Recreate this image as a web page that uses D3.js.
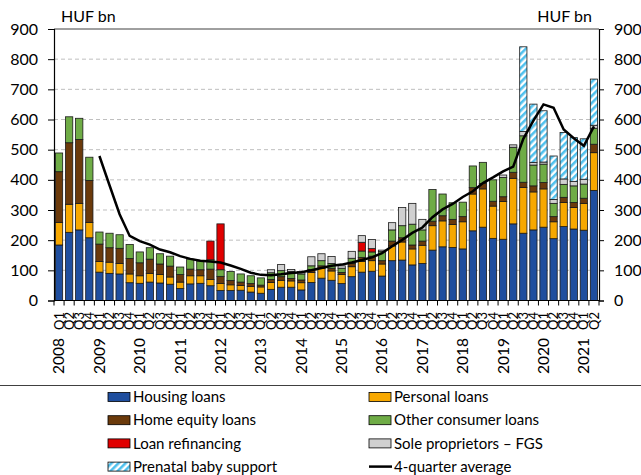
<!DOCTYPE html>
<html><head><meta charset="utf-8">
<script src="https://cdn.jsdelivr.net/npm/d3@7"></script>
<style>
html,body{margin:0;padding:0;background:#fff;}
svg{display:block;font-family:Lato,"Open Sans",sans-serif;}
</style></head>
<body><svg id="c" width="641" height="475"></svg>
<script>
const years = [2008,2009,2010,2011,2012,2013,2014,2015,2016,2017,2018,2019,2020,2021];
const quarterNames = ["Q1","Q2","Q3","Q4"];
const categories = years.flatMap(y => quarterNames.map(q => y + " " + q)).slice(0, 54);
const yTicks = [0,100,200,300,400,500,600,700,800,900];

const housing = [184,226,234,208,94,90,88,59,57,61,58,54,40,55,57,49,33,33,34,28,24,37,44,44,35,60,74,67,56,79,94,97,81,132,134,118,123,167,178,176,171,231,243,206,203,254,223,234,243,205,245,237,233,365];
const personal = [75,93,88,51,35,37,35,29,25,29,28,24,21,27,25,21,23,19,16,19,21,23,23,21,24,33,33,31,30,33,35,35,40,49,60,53,60,81,86,76,90,122,127,107,125,151,152,126,127,56,80,71,89,125];
const homeEquity = [168,204,212,139,58,48,50,51,43,47,35,36,25,22,20,34,24,14,11,9,6,10,12,8,9,10,8,9,7,11,14,15,11,16,14,13,14,15,17,17,17,21,18,16,16,20,17,20,21,17,17,17,17,28];
const otherConsumer = [62,86,70,77,40,48,45,47,36,38,34,33,25,33,29,31,22,30,27,26,24,22,20,23,20,12,17,16,14,17,21,14,30,37,40,69,37,105,72,55,48,72,70,71,64,83,154,69,61,44,43,55,47,53];
const refinancing = [0,0,0,0,0,0,0,0,0,0,0,0,0,0,0,62,152,0,0,0,0,0,0,0,0,0,0,0,0,0,29,11,0,0,0,0,0,0,0,0,0,0,0,0,0,0,0,0,0,0,0,0,0,0];
const soleProp = [0,0,0,0,0,0,0,0,0,0,0,0,0,0,0,0,0,0,0,0,0,10,20,7,8,30,23,23,8,23,22,30,5,24,60,69,35,0,0,0,0,0,0,0,8,8,14,9,7,13,18,15,16,10];
const prenatal = [0,0,0,0,0,0,0,0,0,0,0,0,0,0,0,0,0,0,0,0,0,0,0,0,0,0,0,0,0,0,0,0,0,0,0,0,0,0,0,0,0,0,0,0,0,0,281,193,170,144,154,145,134,153];
const avg4q = [null,null,null,null,479,382,286,214,197,185,169,160,147,138,132,129,126,116,105,92,85,84,87,91,94,100,108,115,119,126,134,143,157,180,201,224,242,276,302,320,343,362,389,408,428,444,536,596,650,639,567,538,513,577];

const seriesKeys = ["housing","personal","homeEquity","otherConsumer","refinancing","soleProp","prenatal"];
const seriesArrays = {housing, personal, homeEquity, otherConsumer, refinancing, soleProp, prenatal};
const seriesNames = {housing:"Housing loans", personal:"Personal loans", homeEquity:"Home equity loans",
  otherConsumer:"Other consumer loans", refinancing:"Loan refinancing", soleProp:"Sole proprietors – FGS",
  prenatal:"Prenatal baby support"};
const colors = {housing:"#1F4E9E", personal:"#F7A800", homeEquity:"#6B3A0B", otherConsumer:"#6FAC46",
  refinancing:"#E00000", soleProp:"#D0D0D0", prenatal:"url(#hatch)"};

const rows = categories.map((c,i) => {
  const r = {cat:c};
  seriesKeys.forEach(k => r[k] = seriesArrays[k][i]);
  return r;
});

const svg = d3.select("#c");
const defs = svg.append("defs");
const pat = defs.append("pattern").attr("id","hatch").attr("patternUnits","userSpaceOnUse")
  .attr("width",5).attr("height",5).attr("patternTransform","rotate(45)");
pat.append("rect").attr("width",5).attr("height",5).attr("fill","#fff");
pat.append("rect").attr("width",2.6).attr("height",5).attr("fill","#4FC1EE");

const pLeft = 54, pRight = 599, pTop = 29, pBottom = 300.5;
const x = d3.scaleBand().domain(categories).range([pLeft, pRight]).paddingInner(0.28).paddingOuter(0.14);
const y = d3.scaleLinear().domain([0,900]).range([pBottom, pTop]);

// grid
svg.append("g").selectAll("line").data(yTicks.filter(t => t > 0 && t < 900)).join("line")
  .attr("x1", pLeft).attr("x2", pRight).attr("y1", d => y(d)).attr("y2", d => y(d))
  .attr("stroke","#BFBFBF").attr("stroke-width",1).attr("stroke-dasharray","4,3");
svg.append("line").attr("x1",pLeft).attr("x2",pRight).attr("y1",y(900)).attr("y2",y(900))
  .attr("stroke","#404040").attr("stroke-width",1);

// bars
const stack = d3.stack().keys(seriesKeys)(rows);
svg.append("g").selectAll("g").data(stack).join("g")
  .attr("fill", d => colors[d.key])
  .selectAll("rect").data(d => d.filter(s => s[1] - s[0] > 0)).join("rect")
  .attr("x", d => x(d.data.cat)).attr("width", x.bandwidth())
  .attr("y", d => y(d[1])).attr("height", d => y(d[0]) - y(d[1]))
  .attr("stroke","#1a1a1a").attr("stroke-width",0.8);

// axes
const yl = d3.axisLeft(y).tickValues(yTicks).tickSize(6).tickPadding(10);
const yr = d3.axisRight(y).tickValues(yTicks).tickSize(5).tickPadding(10);
const gl = svg.append("g").attr("transform",`translate(${pLeft},0)`).call(yl);
const gr = svg.append("g").attr("transform",`translate(${pRight},0)`).call(yr);
[gl,gr].forEach(g => {
  g.select(".domain").attr("stroke","#000").attr("stroke-width",1.2);
  g.selectAll(".tick line").attr("stroke","#000");
  g.selectAll("text").attr("font-size",16).attr("fill","#000").attr("font-family","Lato, sans-serif");
});

// x axis
const xa = svg.append("g");
xa.append("line").attr("x1",pLeft).attr("x2",pRight).attr("y1",pBottom).attr("y2",pBottom).attr("stroke","#000").attr("stroke-width",1.2);
const bounds = categories.map(c => x(c) - x.step()*x.paddingInner()/2).concat([pRight]);
xa.selectAll("line.tk").data(bounds).join("line").attr("class","tk")
  .attr("x1", d => d).attr("x2", d => d).attr("y1", pBottom).attr("y2", pBottom + 5)
  .attr("stroke","#000");
xa.selectAll("text.q").data(categories).join("text").attr("class","q")
  .attr("transform", d => `translate(${x(d) + x.bandwidth()/2},312) rotate(-90)`)
  .attr("text-anchor","end").attr("dy","0.35em").attr("font-size",13).attr("fill","#000")
  .text(d => d.split(" ")[1]);
xa.selectAll("text.yr").data(categories.filter(d => d.endsWith("Q1"))).join("text").attr("class","yr")
  .attr("transform", d => `translate(${x(d) + x.bandwidth()/2},338) rotate(-90)`)
  .attr("text-anchor","end").attr("dy","0.35em").attr("font-size",15.5).attr("fill","#000")
  .text(d => d.split(" ")[0]);

// line
const line = d3.line().defined(d => d.v != null)
  .x(d => x(d.c) + x.bandwidth()/2).y(d => y(d.v));
svg.append("path").datum(categories.map((c,i) => ({c, v: avg4q[i]})))
  .attr("d", line).attr("fill","none").attr("stroke","#000").attr("stroke-width",2.5);

// unit labels
svg.append("text").attr("x",61).attr("y",22).attr("font-size",16).text("HUF bn");
svg.append("text").attr("x",592).attr("y",22).attr("font-size",16).attr("text-anchor","end").text("HUF bn");

// legend
svg.append("line").attr("x1",0).attr("x2",641).attr("y1",385.5).attr("y2",385.5).attr("stroke","#404040");
const legendItems = [
  {k:"housing", col:0, row:0}, {k:"personal", col:1, row:0},
  {k:"homeEquity", col:0, row:1}, {k:"otherConsumer", col:1, row:1},
  {k:"refinancing", col:0, row:2}, {k:"soleProp", col:1, row:2},
  {k:"prenatal", col:0, row:3}, {k:"avg", col:1, row:3}
];
const lg = svg.append("g");
legendItems.forEach(it => {
  const sx = it.col === 0 ? 108 : 369;
  const cy = 397 + it.row * 23.2;
  if (it.k === "avg") {
    lg.append("line").attr("x1",sx).attr("x2",sx+23).attr("y1",cy).attr("y2",cy).attr("stroke","#000").attr("stroke-width",2.5);
  } else {
    lg.append("rect").attr("x",sx).attr("y",cy-4.5).attr("width",22).attr("height",9)
      .attr("fill",colors[it.k]).attr("stroke","#000").attr("stroke-width",0.8);
  }
  lg.append("text").attr("x",sx+25).attr("y",cy).attr("dy","0.35em").attr("font-size",15).attr("fill","#000")
    .text(it.k === "avg" ? "4-quarter average" : seriesNames[it.k]);
});
</script></body></html>
